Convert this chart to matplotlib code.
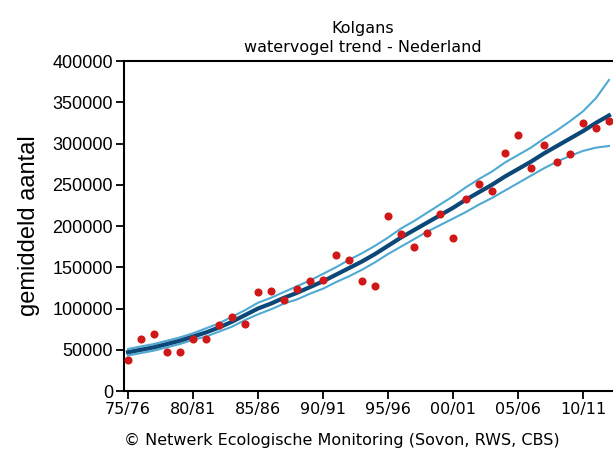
import numpy as np
import matplotlib
matplotlib.use("Agg")
import matplotlib.pyplot as plt

# seasons 1975/76 .. 2012/13
seasons = np.arange(38)
tick_pos = [0, 5, 10, 15, 20, 25, 30, 35]
tick_labels = ["75/76", "80/81", "85/86", "90/91", "95/96", "00/01", "05/06", "10/11"]

# counted values
counts = [37000, 63000, 69000, 47000, 47000, 63000, 63000, 80000, 90000, 81000,
          120000, 121000, 110000, 124000, 133000, 135000, 165000, 159000, 133000, 127000,
          212000, 190000, 175000, 192000, 215000, 186000, 233000, 251000, 242000, 289000,
          310000, 270000, 298000, 277000, 287000, 325000, 319000, 327000]

# trend line and confidence band
trend = [47000, 50000, 53000, 57000, 61000, 66000, 71000, 77000, 84000, 92000,
         100000, 106000, 113000, 119000, 126000, 133000, 141000, 149000, 157000, 166000,
         176000, 186000, 195000, 204000, 213000, 222000, 232000, 241000, 250000, 260000,
         269000, 278000, 288000, 297000, 306000, 315000, 325000, 334000]
upper = [51000, 54000, 57000, 61000, 65000, 70000, 76000, 82000, 90000, 98000,
         107000, 113000, 120000, 127000, 134000, 142000, 150000, 159000, 167000, 176000,
         186000, 197000, 206000, 216000, 226000, 236000, 247000, 257000, 266000, 277000,
         286000, 295000, 306000, 316000, 327000, 339000, 355000, 377000]
lower = [43000, 46000, 49000, 53000, 57000, 62000, 66000, 72000, 78000, 86000,
         93000, 99000, 106000, 111000, 118000, 124000, 132000, 139000, 147000, 156000,
         166000, 175000, 184000, 193000, 201000, 209000, 217000, 226000, 234000, 243000,
         252000, 261000, 270000, 278000, 285000, 291000, 295000, 297000]

fig = plt.figure(figsize=(6.13, 4.57), dpi=100)
ax = fig.add_axes([0.2023, 0.1444, 0.7977, 0.7221])

band_col = "#4fa9d2"
ax.plot(seasons, upper, color=band_col, lw=1.5, zorder=2)
ax.plot(seasons, lower, color=band_col, lw=1.5, zorder=2)
ax.plot(seasons, trend, color="#0b4878", lw=3, zorder=3)
ax.scatter(seasons, counts, s=34, color="#d01818", zorder=4, linewidths=0)

ax.set_xlim(-0.31, 37.31)
ax.set_ylim(0, 400000)
ax.set_yticks(np.arange(0, 400001, 50000))
ax.set_yticklabels([str(v) for v in range(0, 400001, 50000)], fontsize=13,
                   family="Liberation Sans")
ax.set_xticks(tick_pos)
ax.set_xticklabels(tick_labels, fontsize=11.5)
ax.tick_params(direction="out", length=6, width=1.3, color="black", pad=2)

for side in ["left", "bottom", "top"]:
    ax.spines[side].set_linewidth(1.5)
ax.spines["right"].set_visible(False)

ax.set_ylabel("gemiddeld aantal", fontsize=17, family="Liberation Sans", labelpad=9)

fig.text(0.592, 0.938, "Kolgans", ha="center", va="center", fontsize=11.5)
fig.text(0.592, 0.895, "watervogel trend - Nederland", ha="center", va="center", fontsize=11.5)
fig.text(0.557, 0.037, "\u00a9 Netwerk Ecologische Monitoring (Sovon, RWS, CBS)",
         ha="center", va="center", fontsize=11.5)

fig.savefig("out.png", dpi=100)
